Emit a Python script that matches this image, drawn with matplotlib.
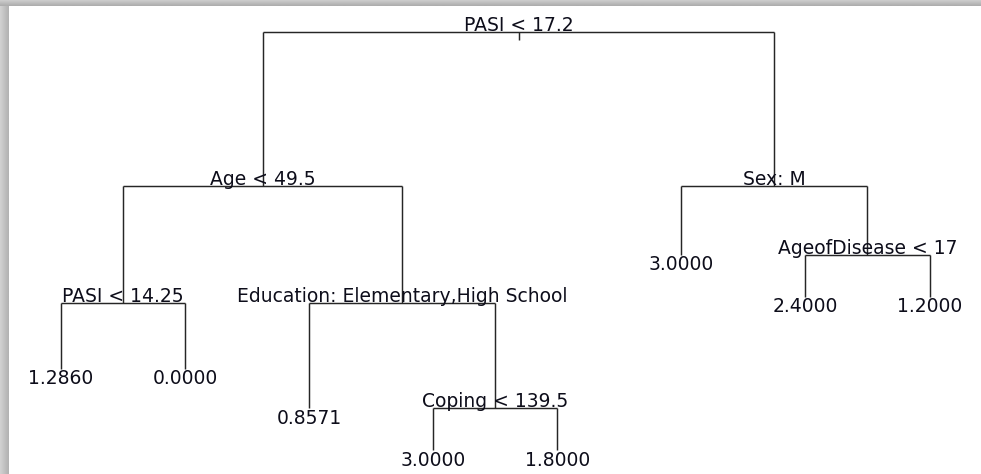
import numpy as np
import matplotlib
matplotlib.use("Agg")
import matplotlib.pyplot as plt
from matplotlib.transforms import offset_copy

# Tree nodes in pre-order (regression tree)
node_labels = ["PASI < 17.2", "Age < 49.5", "PASI < 14.25", "1.2860", "0.0000",
               "Education: Elementary,High School", "0.8571", "Coping < 139.5",
               "3.0000", "1.8000", "Sex: M", "3.0000", "AgeofDisease < 17",
               "2.4000", "1.2000"]
node_parent = [-1, 0, 1, 2, 2, 1, 5, 5, 7, 7, 0, 10, 10, 12, 12]
# vertical position (deviance scale) of each node
node_height = [41.8, 26.4, 14.73, 8.1, 8.1, 14.73, 4.2, 4.2, 0.0, 0.0,
               26.4, 19.5, 19.5, 15.3, 15.3]

n = len(node_labels)
children = {i: [j for j in range(n) if node_parent[j] == i] for i in range(n)}
is_leaf = [len(children[i]) == 0 for i in range(n)]

# leaves at uniform positions 1..k, internal nodes at midpoint of children
xpos = [0.0] * n
k = 0
for i in range(n):
    if is_leaf[i]:
        k += 1
        xpos[i] = float(k)
for i in reversed(range(n)):
    if not is_leaf[i]:
        xpos[i] = np.mean([xpos[c] for c in children[i]])

W, H = 981, 474
fig = plt.figure(figsize=(W / 100, H / 100), dpi=100)
fig.patch.set_facecolor("white")

ax = fig.add_axes([0, 0, 1, 1])
ax.set_xlim(0.508, 8.415)
ax.set_ylim(-2.4, 45)
ax.axis("off")

line_kw = dict(color="#262626", lw=1.05, solid_capstyle="butt")
text_color = "#0d0d1a"
fs = 13.5

for i in range(n):
    if not is_leaf[i]:
        ch = children[i]
        ax.plot([xpos[ch[0]], xpos[ch[-1]]], [node_height[i]] * 2, **line_kw)
    p = node_parent[i]
    if p >= 0:
        ax.plot([xpos[i], xpos[i]], [node_height[p], node_height[i]], **line_kw)

# short stub below the root split
root = node_parent.index(-1)
ax.plot([xpos[root], xpos[root]], [node_height[root], node_height[root] - 0.8],
        **line_kw)

up = offset_copy(ax.transData, fig=fig, x=0, y=1, units="dots")
down = offset_copy(ax.transData, fig=fig, x=0, y=-15.5, units="dots")
for i in range(n):
    ax.text(xpos[i], node_height[i], node_labels[i],
            transform=down if is_leaf[i] else up,
            ha="center", va="baseline", fontsize=fs, color=text_color)

# drop-shadow frame (top and left)
top_h, left_w = 6, 9
g = np.linspace(0.80, 0.68, top_h).reshape(-1, 1)
axt = fig.add_axes([0, 1 - top_h / H, 1, top_h / H])
axt.imshow(np.repeat(g, 50, axis=1), cmap="gray", vmin=0, vmax=1,
           aspect="auto", interpolation="bilinear")
axt.axis("off")
gl = np.linspace(0.82, 0.70, left_w).reshape(1, -1)
axl = fig.add_axes([0, 0, left_w / W, 1 - top_h / H])
axl.imshow(np.repeat(gl, 50, axis=0), cmap="gray", vmin=0, vmax=1,
           aspect="auto", interpolation="bilinear")
axl.axis("off")

fig.savefig("out.png", dpi=100, facecolor="white")
